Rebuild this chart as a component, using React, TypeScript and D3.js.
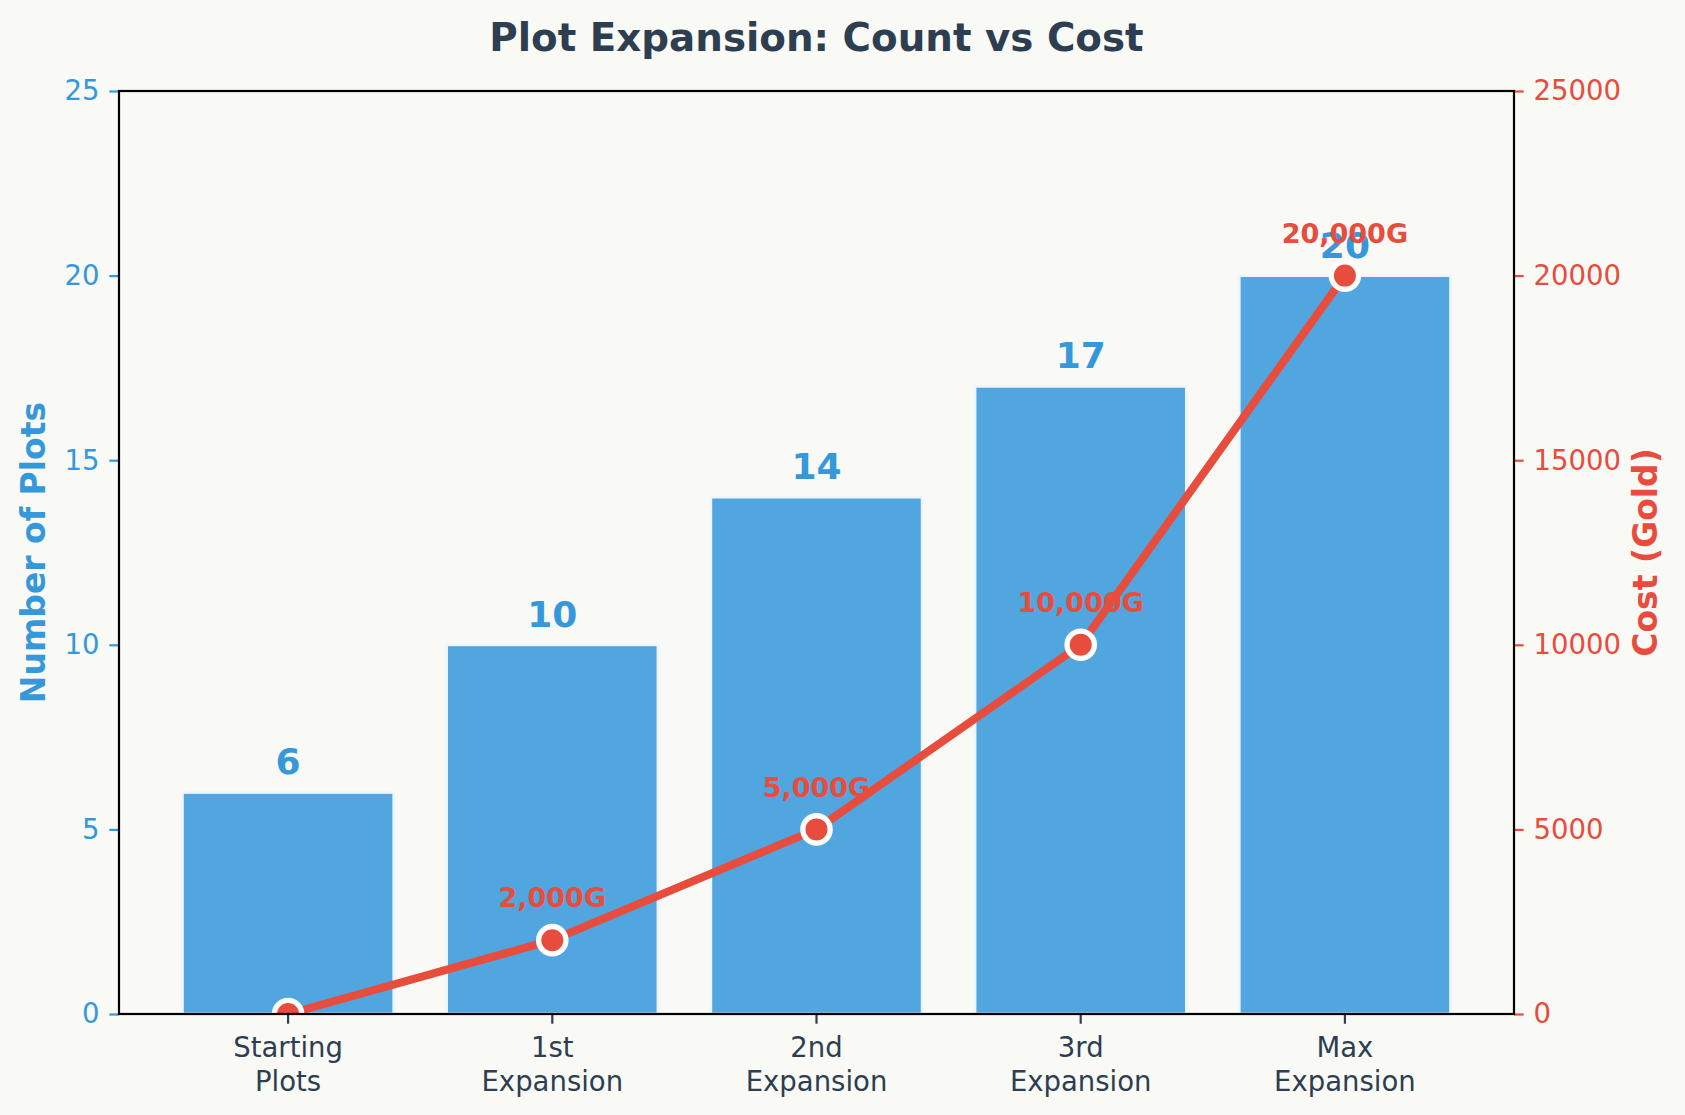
import React, { useEffect, useRef } from 'react';
import * as d3 from 'd3';

const categories = ['Starting\nPlots', '1st\nExpansion', '2nd\nExpansion', '3rd\nExpansion', 'Max\nExpansion'];
const plotCounts = [6, 10, 14, 17, 20];
const costs = [0, 2000, 5000, 10000, 20000];
const countTicks = [0, 5, 10, 15, 20, 25];
const costTicks = [0, 5000, 10000, 15000, 20000, 25000];

const WIDTH = 1685;
const HEIGHT = 1115;
const margin = { top: 91, right: 171, bottom: 101, left: 119 };
const FONT = '"DejaVu Sans", sans-serif';

const colors = {
  bg: '#f9f9f5',
  blue: '#3498db',
  red: '#e74c3c',
  dark: '#2c3e50',
};

export default function App() {
  const svgRef = useRef<SVGSVGElement>(null);

  useEffect(() => {
    const svg = d3.select(svgRef.current);
    svg.selectAll('*').remove();

    const innerW = WIDTH - margin.left - margin.right;
    const innerH = HEIGHT - margin.top - margin.bottom;

    const x = d3.scaleBand<string>()
      .domain(categories)
      .range([0, innerW])
      .paddingInner(0.2)
      .paddingOuter(0.24);
    const yCount = d3.scaleLinear().domain([0, 25]).range([innerH, 0]);
    const yCost = d3.scaleLinear().domain([0, 25000]).range([innerH, 0]);
    const cx = (i: number) => (x(categories[i]) as number) + x.bandwidth() / 2;

    svg.append('rect').attr('width', WIDTH).attr('height', HEIGHT).attr('fill', colors.bg);

    svg.append('text')
      .attr('x', margin.left + innerW / 2)
      .attr('y', 50.5)
      .attr('text-anchor', 'middle')
      .attr('font-family', FONT)
      .attr('font-weight', 'bold')
      .attr('font-size', 38.8)
      .attr('fill', colors.dark)
      .text('Plot Expansion: Count vs Cost');

    svg.append('defs').append('clipPath').attr('id', 'plot-clip')
      .append('rect').attr('width', innerW).attr('height', innerH);

    const g = svg.append('g').attr('transform', `translate(${margin.left},${margin.top})`);

    // bars
    g.selectAll('rect.bar')
      .data(plotCounts)
      .enter().append('rect')
      .attr('class', 'bar')
      .attr('x', (_d, i) => x(categories[i]) as number)
      .attr('width', x.bandwidth())
      .attr('y', d => yCount(d))
      .attr('height', d => innerH - yCount(d))
      .attr('fill', colors.blue)
      .attr('fill-opacity', 0.85)
      .attr('stroke', '#eef6fc')
      .attr('stroke-width', 2.8);

    // bar value labels
    g.selectAll('text.count')
      .data(plotCounts)
      .enter().append('text')
      .attr('class', 'count')
      .attr('x', (_d, i) => cx(i))
      .attr('y', d => yCount(d) - 18)
      .attr('text-anchor', 'middle')
      .attr('font-family', FONT)
      .attr('font-weight', 'bold')
      .attr('font-size', 36)
      .attr('fill', colors.blue)
      .text(d => d);

    // cost labels (skip the free starting plots)
    const costIdx = costs.map((c, i) => ({ c, i })).filter(d => d.c > 0);
    g.selectAll('text.cost')
      .data(costIdx)
      .enter().append('text')
      .attr('class', 'cost')
      .attr('x', d => cx(d.i))
      .attr('y', d => yCost(d.c) - 32.7)
      .attr('text-anchor', 'middle')
      .attr('font-family', FONT)
      .attr('font-weight', 'bold')
      .attr('font-size', 27)
      .attr('fill', colors.red)
      .text(d => `${d3.format(',')(d.c)}G`);

    // cost line + markers
    const lineGroup = g.append('g').attr('clip-path', 'url(#plot-clip)');
    const line = d3.line<number>()
      .x((_d, i) => cx(i))
      .y(d => yCost(d));
    lineGroup.append('path')
      .datum(costs)
      .attr('d', line)
      .attr('fill', 'none')
      .attr('stroke', colors.red)
      .attr('stroke-width', 8)
      .attr('stroke-linejoin', 'round');
    lineGroup.selectAll('circle')
      .data(costs)
      .enter().append('circle')
      .attr('cx', (_d, i) => cx(i))
      .attr('cy', d => yCost(d))
      .attr('r', 13.65)
      .attr('fill', colors.red)
      .attr('stroke', 'white')
      .attr('stroke-width', 5.3);

    // axes
    const styleAxis = (sel: any, color: string) => {
      sel.select('.domain').remove();
      sel.selectAll('.tick line').attr('stroke', color).attr('stroke-width', 2.2);
      sel.selectAll('.tick text')
        .attr('fill', color)
        .attr('font-family', FONT)
        .attr('font-size', 27.5);
    };

    const left = g.append('g')
      .call(d3.axisLeft(yCount).tickValues(countTicks).tickSize(9.7).tickPadding(9.7));
    styleAxis(left, colors.blue);

    const right = g.append('g')
      .attr('transform', `translate(${innerW},0)`)
      .call(d3.axisRight(yCost).tickValues(costTicks).tickFormat(d3.format('d')).tickSize(9.7).tickPadding(9.7));
    styleAxis(right, colors.red);

    const bottom = g.append('g')
      .attr('transform', `translate(0,${innerH})`)
      .call(d3.axisBottom(x).tickSize(9.7));
    styleAxis(bottom, colors.dark);
    bottom.selectAll('.tick text').each(function (d: any) {
      const t = d3.select(this);
      t.text(null).attr('dy', null).attr('y', null);
      String(d).split('\n').forEach((part, k) => {
        t.append('tspan').attr('x', 0).attr('y', 42.5 + k * 34.5).text(part);
      });
    });

    // frame
    g.append('rect')
      .attr('width', innerW)
      .attr('height', innerH)
      .attr('fill', 'none')
      .attr('stroke', 'black')
      .attr('stroke-width', 2.2);

    // axis titles
    svg.append('text')
      .attr('transform', `translate(45,${margin.top + innerH / 2}) rotate(-90)`)
      .attr('text-anchor', 'middle')
      .attr('font-family', FONT)
      .attr('font-weight', 'bold')
      .attr('font-size', 33)
      .attr('fill', colors.blue)
      .text('Number of Plots');

    svg.append('text')
      .attr('transform', `translate(1657,${margin.top + innerH / 2}) rotate(-90)`)
      .attr('text-anchor', 'middle')
      .attr('font-family', FONT)
      .attr('font-weight', 'bold')
      .attr('font-size', 33)
      .attr('fill', colors.red)
      .text('Cost (Gold)');
  }, []);

  return (
    <div>
      <style>{'body{margin:0;}'}</style>
      <svg ref={svgRef} width={WIDTH} height={HEIGHT} style={{ display: 'block' }} />
    </div>
  );
}
